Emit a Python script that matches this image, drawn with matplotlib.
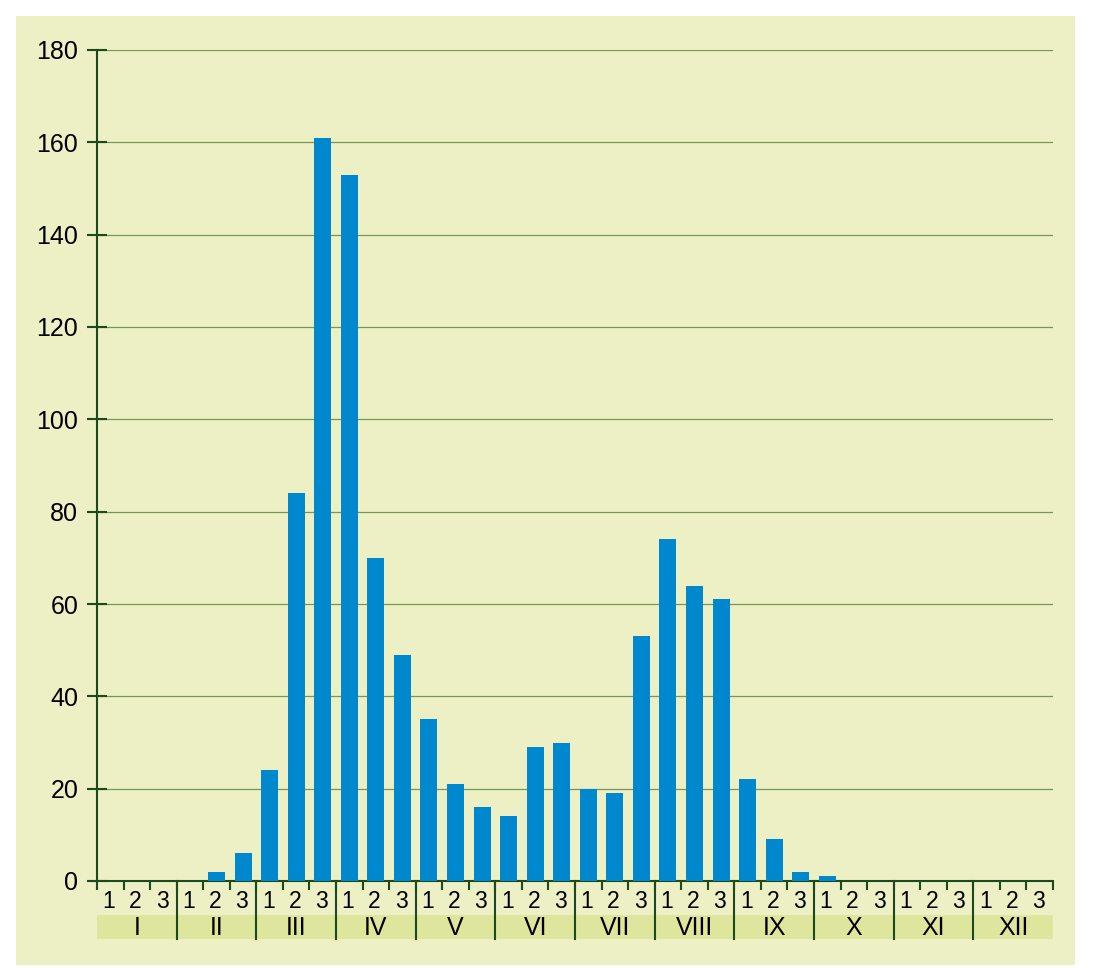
import numpy as np
import matplotlib.pyplot as plt
from matplotlib.patches import Rectangle
import matplotlib.transforms as mtransforms

plt.rcParams['font.family'] = ['Liberation Sans', 'DejaVu Sans']

months = ["I", "II", "III", "IV", "V", "VI", "VII", "VIII", "IX", "X", "XI", "XII"]
decades = ["1", "2", "3"]
values = [0, 0, 0,
          0, 2, 6,
          24, 84, 161,
          153, 70, 49,
          35, 21, 16,
          14, 29, 30,
          20, 19, 53,
          74, 64, 61,
          22, 9, 2,
          1, 0, 0,
          0, 0, 0,
          0, 0, 0]
yticks = [0, 20, 40, 60, 80, 100, 120, 140, 160, 180]

bg = "#ECF0C4"
band = "#DEE59D"
bar_col = "#0088CF"
grid_col = "#7A955A"
axis_col = "#1C4A1C"

W, H = 1104, 968
fig = plt.figure(figsize=(W/100, H/100), dpi=100)
fig.patches.append(Rectangle((16/W, 3/H), 1059/W, 949/H, transform=fig.transFigure,
                             facecolor=bg, edgecolor="none", zorder=-10))

ax = fig.add_axes([97/W, 87/H, 956/W, 831/H])
ax.set_facecolor("none")

x = np.arange(len(values)) + 0.5
ax.bar(x, values, width=0.64, color=bar_col, zorder=3)

ax.set_xlim(0, len(values))
ax.set_ylim(0, 180)
ax.set_yticks(yticks)
ax.set_yticklabels([str(v) for v in yticks], fontsize=18)
for v in yticks[1:]:
    ax.axhline(v, color=grid_col, lw=0.9, zorder=1)

for s in ["top", "right"]:
    ax.spines[s].set_visible(False)
ax.spines["left"].set_color(axis_col)
ax.spines["left"].set_linewidth(1.5)
ax.spines["bottom"].set_color(axis_col)
ax.spines["bottom"].set_linewidth(1.5)
ax.tick_params(axis="y", direction="inout", length=14, width=1.5, color=axis_col, pad=6.5)
ax.set_xticks(np.arange(len(values) + 1))
ax.set_xticklabels([])
ax.tick_params(axis="x", direction="out", length=6.5, width=1.5, color=axis_col)

# small extension of the baseline to the left
ax.plot([-0.27, 0], [0, 0], color=axis_col, lw=1.5, clip_on=False, zorder=4)

trans = mtransforms.blended_transform_factory(ax.transData, ax.transAxes)
ah = 831.0
band_top = -34 / ah
band_bot = -58 / ah
ax.add_patch(Rectangle((0, band_bot), len(values), band_top - band_bot, transform=trans,
                       facecolor=band, edgecolor="none", clip_on=False, zorder=1))

for i in range(len(values)):
    ax.text(i + 0.45, -20 / ah, decades[i % 3], transform=trans, ha="center", va="center",
            fontsize=16.5)

for m, name in enumerate(months):
    ax.text(3 * m + 1.5, -47 / ah, name, transform=trans, ha="center", va="center",
            fontsize=18)
    if m > 0:
        ax.plot([3 * m, 3 * m], [0, band_bot], transform=trans, color=axis_col, lw=1.5,
                clip_on=False, zorder=4)

fig.savefig("out.png", dpi=100, facecolor="white")
